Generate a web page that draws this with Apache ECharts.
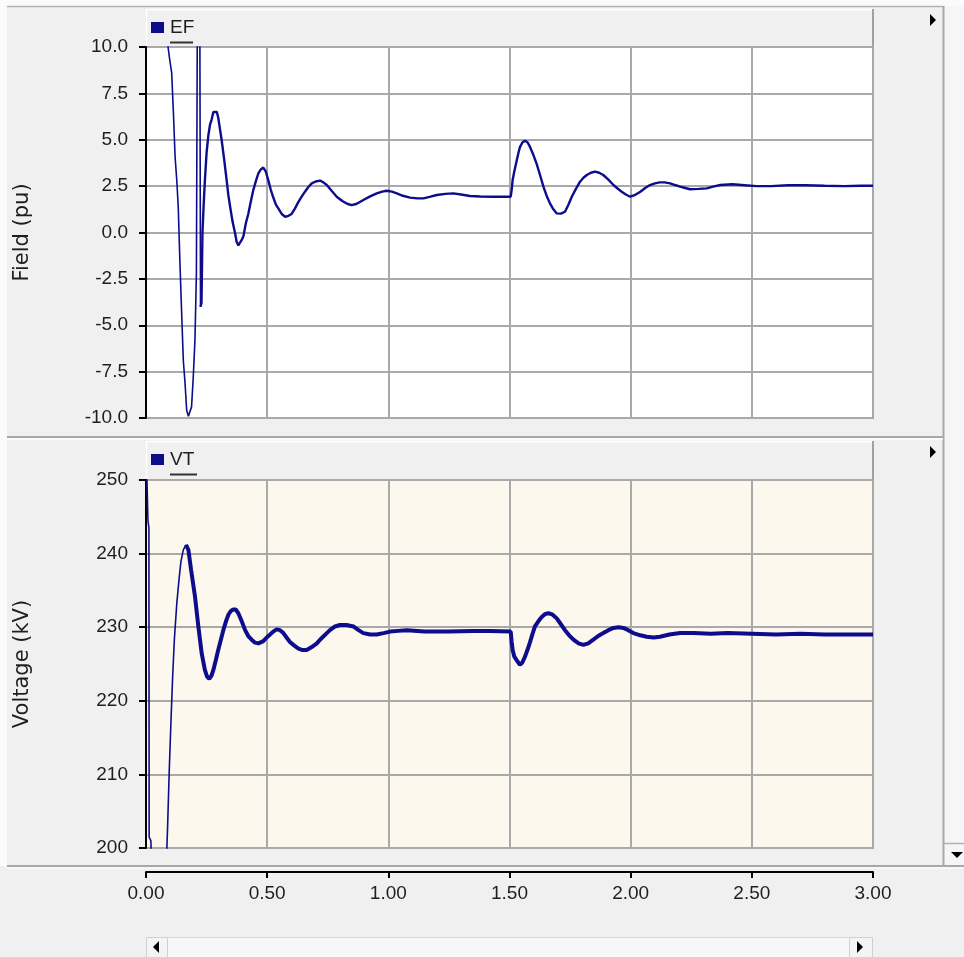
<!DOCTYPE html>
<html>
<head>
<meta charset="utf-8">
<script src="https://cdn.jsdelivr.net/npm/echarts@6/dist/echarts.min.js"></script>
<style>
html,body{margin:0;padding:0;background:#fbfbfb;}
#c{width:964px;height:957px;background:#f0f0f0;}
</style>
</head>
<body>
<div id="c"></div>
<script>
// ---- data ----
const xTicks = [0, 0.5, 1.0, 1.5, 2.0, 2.5, 3.0];
const efTicks = [-10, -7.5, -5, -2.5, 0, 2.5, 5, 7.5, 10];
const vtTicks = [200, 210, 220, 230, 240, 250];

const efT = [0.000,0.080,0.091,0.098,0.106,0.113,0.120,0.127,0.133,0.140,0.147,0.154,0.161,0.168,0.175,0.181,0.188,0.195,0.202,0.208,0.212,0.222,0.225,0.229,0.233,0.238,0.243,0.250,0.257,0.264,0.271,0.278,0.285,0.292,0.298,0.305,0.312,0.322,0.333,0.340,0.347,0.357,0.367,0.374,0.381,0.388,0.395,0.402,0.412,0.422,0.433,0.443,0.454,0.464,0.474,0.484,0.494,0.505,0.515,0.525,0.536,0.546,0.560,0.574,0.588,0.601,0.615,0.629,0.643,0.656,0.670,0.684,0.700,0.718,0.732,0.746,0.766,0.787,0.810,0.830,0.849,0.870,0.897,0.925,0.952,0.975,0.993,1.015,1.035,1.060,1.090,1.120,1.145,1.170,1.200,1.235,1.268,1.300,1.337,1.380,1.433,1.470,1.505,1.509,1.513,1.520,1.530,1.537,1.543,1.553,1.564,1.575,1.585,1.598,1.612,1.626,1.640,1.654,1.667,1.681,1.695,1.712,1.729,1.743,1.757,1.774,1.791,1.805,1.819,1.836,1.853,1.870,1.887,1.908,1.929,1.946,1.963,1.980,1.998,2.019,2.040,2.060,2.080,2.100,2.120,2.140,2.163,2.183,2.204,2.225,2.245,2.280,2.314,2.340,2.370,2.420,2.470,2.520,2.580,2.650,2.720,2.800,2.880,2.950,3.000];
const efV = [15.0,12.0,10.0,9.3,8.6,6.5,4.1,2.8,1.4,-1.6,-4.3,-6.9,-8.1,-9.6,-9.9,-9.9,-9.4,-7.8,-5.8,-2.2,12.0,12.0,-4.0,-3.8,0.0,1.5,2.8,4.3,5.2,5.8,6.1,6.5,6.6,6.5,6.2,5.6,5.0,4.0,2.8,2.0,1.4,0.6,0.0,-0.5,-0.7,-0.6,-0.4,-0.2,0.5,1.0,1.7,2.3,2.8,3.2,3.4,3.5,3.3,2.8,2.3,1.9,1.5,1.3,1.0,0.85,0.9,1.0,1.3,1.65,1.95,2.2,2.45,2.65,2.75,2.8,2.7,2.56,2.25,1.93,1.7,1.55,1.48,1.55,1.75,1.95,2.11,2.2,2.25,2.2,2.11,1.98,1.88,1.84,1.84,1.92,2.02,2.08,2.11,2.05,1.97,1.94,1.93,1.93,1.93,2.3,2.83,3.3,3.9,4.3,4.6,4.85,4.95,4.85,4.6,4.2,3.7,3.1,2.47,1.95,1.57,1.25,1.03,1.02,1.12,1.5,1.93,2.35,2.74,2.95,3.1,3.22,3.28,3.22,3.1,2.85,2.56,2.37,2.2,2.05,1.93,2.03,2.2,2.4,2.56,2.65,2.7,2.7,2.65,2.56,2.47,2.4,2.33,2.35,2.38,2.47,2.56,2.6,2.55,2.5,2.5,2.55,2.55,2.52,2.5,2.52,2.52];

const vtT = [0.000,0.004,0.008,0.012,0.013,0.020,0.022,0.050,0.085,0.089,0.096,0.103,0.110,0.117,0.127,0.136,0.144,0.154,0.165,0.175,0.186,0.202,0.216,0.230,0.243,0.252,0.261,0.270,0.278,0.288,0.298,0.309,0.319,0.330,0.340,0.350,0.360,0.370,0.381,0.395,0.409,0.422,0.436,0.450,0.464,0.484,0.498,0.512,0.525,0.539,0.553,0.567,0.580,0.594,0.612,0.629,0.646,0.663,0.684,0.705,0.718,0.746,0.759,0.780,0.800,0.828,0.856,0.877,0.897,0.925,0.952,0.980,1.007,1.040,1.076,1.150,1.250,1.350,1.420,1.505,1.509,1.513,1.520,1.530,1.543,1.553,1.564,1.575,1.585,1.595,1.605,1.619,1.633,1.647,1.661,1.678,1.695,1.712,1.729,1.746,1.764,1.785,1.805,1.825,1.846,1.866,1.887,1.908,1.929,1.950,1.970,1.990,2.011,2.040,2.066,2.095,2.121,2.160,2.204,2.260,2.330,2.400,2.500,2.600,2.700,2.800,2.900,3.000];
const vtV = [252.0,250.0,244.5,243.5,201.5,201.0,199.0,185.0,199.0,202.7,210.6,217.2,223.3,228.3,233.2,236.4,238.9,240.5,241.2,240.5,237.8,234.2,230.1,226.4,224.2,223.3,223.0,223.4,224.2,225.5,226.9,228.3,229.6,230.8,231.7,232.2,232.4,232.4,231.9,230.8,229.6,228.8,228.3,227.9,227.8,228.1,228.6,229.0,229.4,229.7,229.6,229.2,228.6,228.0,227.5,227.1,226.9,226.9,227.3,227.8,228.3,229.2,229.6,230.1,230.3,230.3,230.1,229.6,229.2,229.0,229.0,229.2,229.4,229.5,229.6,229.4,229.4,229.5,229.5,229.4,228.0,226.9,226.0,225.5,224.9,225.2,226.0,227.0,228.0,229.1,230.1,230.8,231.4,231.8,231.9,231.7,231.2,230.4,229.6,228.9,228.3,227.8,227.6,227.8,228.3,228.8,229.2,229.6,229.9,230.0,229.9,229.6,229.2,228.9,228.7,228.6,228.7,229.0,229.2,229.2,229.1,229.2,229.1,229.0,229.1,229.0,229.0,229.0];

// split index: thin transient part, thicker (ripply) steady part
const efSplit = 22;   // t = 0.225
const vtSplit = 18;   // t = 0.165

function pairs(t, v, a, b) {
  const out = [];
  for (let i = a; i < b; i++) out.push([t[i], v[i]]);
  return out;
}

const LINE = '#0c0c8c';
const TXT = '#1e1e1e';
const FONT = 'Liberation Sans';

const chart = echarts.init(document.getElementById('c'), null, {renderer: 'canvas'});

function yAxisCfg(grid, min, max, step, dec, name) {
  return {
    gridIndex: grid, type: 'value', min: min, max: max, interval: step,
    axisLine: {show: true, lineStyle: {color: '#000', width: 2}},
    axisTick: {show: true, length: 7, lineStyle: {color: '#000', width: 2}},
    axisLabel: {margin: 18, fontSize: 19, fontFamily: FONT, color: TXT,
      formatter: v => v.toFixed(dec)},
    splitLine: {show: true, lineStyle: {color: '#a9a9a9', width: 2}},
    name: name, nameLocation: 'middle', nameGap: 113, nameRotate: 90,
    nameTextStyle: {fontSize: 21, fontFamily: 'DejaVu Sans', color: TXT}
  };
}

const tri = (cx, cy, dir) => {
  let pts;
  if (dir === 'r') pts = [[cx-3, cy-6], [cx+3, cy], [cx-3, cy+6]];
  else if (dir === 'l') pts = [[cx+3, cy-6], [cx-3, cy], [cx+3, cy+6]];
  else pts = [[cx-6, cy-3], [cx+6, cy-3], [cx, cy+3]];
  return {type: 'polygon', shape: {points: pts}, style: {fill: '#000'}, silent: true};
};
const hl = (x1, y1, x2, y2, c, w) => ({type: 'line', shape: {x1, y1, x2, y2}, style: {stroke: c, lineWidth: w || 1}, silent: true});
const rect = (x, y, w, h, fill, stroke) => ({type: 'rect', shape: {x, y, width: w, height: h}, style: {fill: fill, stroke: stroke || null}, silent: true});

const option = {
  animation: false,
  backgroundColor: 'transparent',
  graphic: [
    rect(0, 0, 964, 6, '#fbfbfb'),
    rect(0, 0, 7, 866, '#fbfbfb'),
    rect(944, 6, 20, 859, '#f6f6f6'),
    hl(7, 6.5, 943, 6.5, '#b4b4b4', 1.5),
    hl(943.5, 6, 943.5, 866, '#a8a8a8', 2),
    hl(944, 843.5, 964, 843.5, '#b0b0b0', 1.5),
    tri(957, 855, 'd'),
    // header strips
    hl(146, 9.5, 873, 9.5, '#ffffff', 1.5),
    hl(146.5, 9, 146.5, 46, '#ffffff', 1.5),
    hl(873, 9, 873, 47, '#a0a0a0', 2),
    hl(146, 441.5, 873, 441.5, '#ffffff', 1.5),
    hl(146.5, 441, 146.5, 478, '#ffffff', 1.5),
    hl(873, 441, 873, 479, '#a0a0a0', 2),
    tri(933, 20, 'r'),
    tri(933, 452, 'r'),
    // separator between panes
    hl(7, 437, 943, 437, '#a8a8a8', 2),
    hl(7, 439, 943, 439, '#ffffff', 1.5),
    // separator above time axis
    hl(7, 866, 964, 866, '#a8a8a8', 2),
    hl(7, 868, 964, 868, '#ffffff', 1),
    // underlines of legend names
    hl(170, 42.5, 193, 42.5, '#333', 2),
    hl(170, 474.5, 197, 474.5, '#333', 2),
    // horizontal scrollbar
    rect(146.5, 937.5, 726, 22, '#f7f7f7', '#d6d6d6'),
    rect(146.5, 937.5, 21, 22, '#f4f4f4', '#d0d0d0'),
    rect(849.5, 937.5, 23, 22, '#f4f4f4', '#d0d0d0'),
    tri(156, 947, 'l'),
    tri(860, 947, 'r')
  ],
  legend: [
    {data: ['EF'], left: 151, top: 18, padding: 0, icon: 'rect', itemWidth: 13, itemHeight: 11,
     selectedMode: false, textStyle: {fontSize: 19, fontFamily: FONT, color: TXT, padding: [0, 0, 0, 1]}},
    {data: ['VT'], left: 151, top: 450, padding: 0, icon: 'rect', itemWidth: 13, itemHeight: 11,
     selectedMode: false, textStyle: {fontSize: 19, fontFamily: FONT, color: TXT, padding: [0, 0, 0, 1]}}
  ],
  grid: [
    {left: 146, top: 47, width: 727, height: 371, show: true, backgroundColor: '#ffffff', borderColor: '#a3a3a3', borderWidth: 2},
    {left: 146, top: 480, width: 727, height: 368, show: true, backgroundColor: '#fdf8ee', borderColor: '#a3a3a3', borderWidth: 2}
  ],
  xAxis: [
    {gridIndex: 0, type: 'value', min: xTicks[0], max: xTicks[xTicks.length-1], interval: xTicks[1]-xTicks[0],
     axisLine: {show: false}, axisTick: {show: false}, axisLabel: {show: false},
     splitLine: {show: true, lineStyle: {color: '#a9a9a9', width: 2}}},
    {gridIndex: 1, type: 'value', min: xTicks[0], max: xTicks[xTicks.length-1], interval: xTicks[1]-xTicks[0],
     offset: 24,
     axisLine: {show: true, onZero: false, lineStyle: {color: '#000', width: 2}},
     axisTick: {show: true, length: 6, lineStyle: {color: '#000', width: 2}},
     axisLabel: {margin: 12, fontSize: 19, fontFamily: FONT, color: TXT, formatter: v => v.toFixed(2)},
     splitLine: {show: true, lineStyle: {color: '#a9a9a9', width: 2}}}
  ],
  yAxis: [
    yAxisCfg(0, efTicks[0], efTicks[efTicks.length-1], efTicks[1]-efTicks[0], 1, 'Field (pu)'),
    yAxisCfg(1, vtTicks[0], vtTicks[vtTicks.length-1], vtTicks[1]-vtTicks[0], 0, 'Voltage (kV)')
  ],
  series: [
    {name: 'EF', type: 'line', xAxisIndex: 0, yAxisIndex: 0, showSymbol: false, clip: true,
     lineStyle: {color: LINE, width: 1.6}, itemStyle: {color: LINE},
     data: pairs(efT, efV, 0, efSplit + 1)},
    {name: 'EF', type: 'line', xAxisIndex: 0, yAxisIndex: 0, showSymbol: false, clip: true,
     lineStyle: {color: LINE, width: 2.4}, itemStyle: {color: LINE},
     data: pairs(efT, efV, efSplit, efT.length)},
    {name: 'VT', type: 'line', xAxisIndex: 1, yAxisIndex: 1, showSymbol: false, clip: true,
     lineStyle: {color: LINE, width: 1.6}, itemStyle: {color: LINE},
     data: pairs(vtT, vtV, 0, vtSplit + 1)},
    {name: 'VT', type: 'line', xAxisIndex: 1, yAxisIndex: 1, showSymbol: false, clip: true,
     lineStyle: {color: LINE, width: 4}, itemStyle: {color: LINE},
     data: pairs(vtT, vtV, vtSplit, vtT.length)}
  ]
};
chart.setOption(option);
</script>
</body>
</html>
